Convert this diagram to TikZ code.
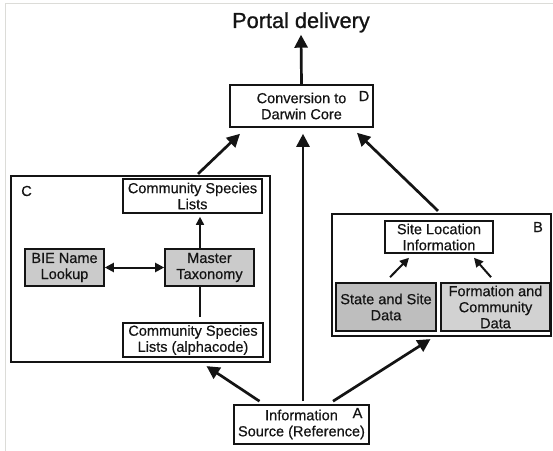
\documentclass[tikz,border=0pt]{standalone}
\usepackage{fontspec}
\setmainfont{Liberation Sans}[FakeBold=0.5]
\newfontfamily\titlefont{Liberation Sans}[FakeBold=0.9]
\usetikzlibrary{arrows.meta,calc}
\newcommand{\fs}{\fontsize{14.6}{16.1}\selectfont}
\definecolor{ink}{HTML}{141414}
\definecolor{frameg}{RGB}{220,220,216}
\definecolor{gmid}{HTML}{CBCBCB}
\definecolor{gdark}{HTML}{BEBEBE}
\definecolor{glight}{HTML}{D2D2D2}
\begin{document}
\begin{tikzpicture}[x=1bp,y=-1bp,
  box/.style={draw=ink, line width=1.6bp, inner sep=0pt, align=center, font=\fs, text=ink},
  grp/.style={draw=ink, line width=2.2bp, inner sep=0pt},
  lab/.style={font=\fs, inner sep=0pt, text=ink},
  mainarrow/.style={draw=ink, line width=2.7bp, -{Triangle[length=13bp,width=13bp]}},
  subarrow/.style={draw=ink, line width=2bp, -{Triangle[length=9bp,width=9bp]}},
  dblarrow/.style={draw=ink, line width=2bp, {Triangle[length=9bp,width=9bp]}-{Triangle[length=9bp,width=9bp]}},
  thinarrow/.style={draw=ink, line width=1.6bp, -{Triangle[length=8bp,width=8bp]}},
]
\useasboundingbox (0,0) rectangle (553,451);
\fill[white] (0,0) rectangle (553,451);
% image frame
\draw[frameg, line width=1.6bp] (5.5,451) -- (5.5,3.5) -- (553,3.5);

% title
\node[font=\titlefont\fontsize{21.8}{24}\selectfont, text=ink, anchor=base, inner sep=2bp] (portal) at (301,28) {Portal delivery};

% D
\node[box, minimum width=143bp, minimum height=42bp] (D) at (301.5,106) {Conversion to\\Darwin Core};
\node[lab] (Dl) at (364,96) {D};

% C group
\node[grp, minimum width=259bp, minimum height=186bp] (C) at (140.5,269) {};
\node[lab] (Cl) at (26.5,191) {C};
\node[box, minimum width=139bp, minimum height=34bp] (CSL) at (192.5,196) {Community Species\\Lists};
\node[box, fill=gmid, minimum width=79bp, minimum height=37bp] (BIE) at (64.5,267.5) {BIE Name\\Lookup};
\node[box, fill=gmid, minimum width=89bp, minimum height=37bp] (MT) at (209.5,267.5) {Master\\Taxonomy};
\node[box, minimum width=140bp, minimum height=34bp] (AC) at (193,340) {Community Species\\Lists (alphacode)};
\coordinate (cx) at (200,0);

% B group
\node[grp, minimum width=219bp, minimum height=122bp] (B) at (441.5,275) {};
\node[lab] (Bl) at (538,227) {B};
\node[box, minimum width=108bp, minimum height=32bp] (SL) at (439,237) {Site Location\\Information};
\node[box, fill=gdark, minimum width=100bp, minimum height=48bp] (SS) at (386,307) {State and Site\\Data};
\node[box, fill=glight, minimum width=109bp, minimum height=48bp] (FC) at (495.5,307) {Formation and\\Community\\Data};

% A
\node[box, minimum width=135bp, minimum height=39bp] (A) at (301.5,424.5) {Information\\Source (Reference)};
\node[lab] (Al) at (357.5,413) {A};

% connectors
\draw[mainarrow] (D.north) -- (portal.south);
\draw[mainarrow] ($(A.north)+(1.5,-3)$) -- ($(D.south)+(1.5,6)$);
\draw[mainarrow] ($(A.north)+(-42,-3)$) -- ($(C.south)+(66,3)$);
\draw[mainarrow] ($(A.north)+(31.5,-3)$) -- ($(B.south)+(-11,2)$);
\draw[mainarrow] ($(C.north)+(57.5,-1)$) -- ($(D.south)+(-61.5,6)$);
\draw[mainarrow] ($(B.north)+(-3.5,-2)$) -- ($(D.south)+(55.5,5)$);

\draw[dblarrow] (BIE.east) -- (MT.west);
\draw[thinarrow] (MT.north -| cx) -- ($(CSL.south -| cx)+(0,3)$);
\draw[draw=ink, line width=1.6bp, shorten <=5bp] (AC.north -| cx) -- (MT.south -| cx);

\draw[subarrow] ($(SS.north)+(4,-5)$) -- ($(SL.south)+(-30,4)$);
\draw[subarrow] ($(FC.north)+(-4.5,-5)$) -- ($(SL.south)+(35,4)$);
\end{tikzpicture}
\end{document}
